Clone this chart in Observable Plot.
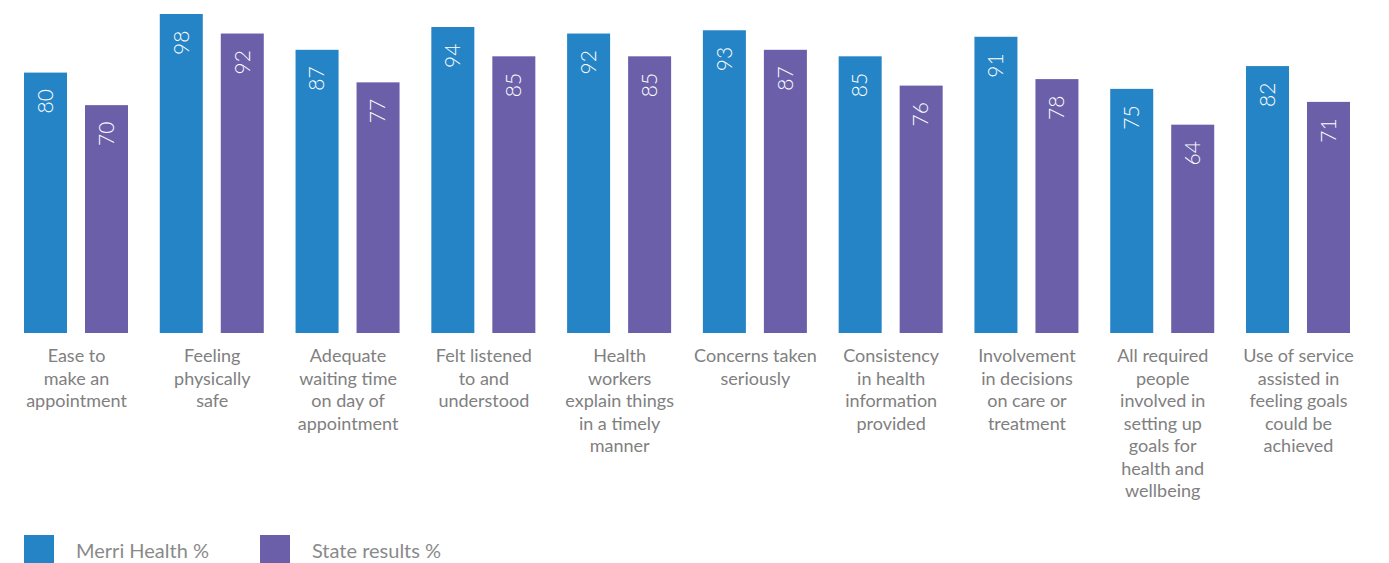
<!DOCTYPE html>
<html>
<head>
<meta charset="utf-8">
<script src="https://cdn.jsdelivr.net/npm/d3@7"></script>
<script src="https://cdn.jsdelivr.net/npm/@observablehq/plot@0.6"></script>
<style>
  html, body { margin: 0; padding: 0; background: #fff; }
  body { width: 1389px; height: 563px; overflow: hidden; font-family: Lato, "Open Sans", sans-serif; }
  #legend { display: flex; align-items: flex-start; margin-top: 25px; padding-left: 24px; font-size: 20px; color: #8a8a8a; }
  .item { display: flex; align-items: flex-start; margin-right: 51px; }
  .sw { width: 30px; height: 30px; margin-right: 22px; }
  .lab { line-height: 30px; margin-top: 0px; }
</style>
</head>
<body>
<div id="chart"></div>
<div id="legend"></div>
<script>
const categories = [
  "Ease to\nmake an\nappointment",
  "Feeling\nphysically\nsafe",
  "Adequate\nwaiting time\non day of\nappointment",
  "Felt listened\nto and\nunderstood",
  "Health\nworkers\nexplain things\nin a timely\nmanner",
  "Concerns taken\nseriously",
  "Consistency\nin health\ninformation\nprovided",
  "Involvement\nin decisions\non care or\ntreatment",
  "All required\npeople\ninvolved in\nsetting up\ngoals for\nhealth and\nwellbeing",
  "Use of service\nassisted in\nfeeling goals\ncould be\nachieved"
];
const seriesNames = ["Merri Health %", "State results %"];
const merriHealth = [80, 98, 87, 94, 92, 93, 85, 91, 75, 82];
const stateResults = [70, 92, 77, 85, 85, 87, 76, 78, 64, 71];
const colors = ["#2484c6", "#6b5fa9"];

const rows = [];
categories.forEach((c, i) => {
  rows.push({category: c, series: seriesNames[0], value: merriHealth[i]});
  rows.push({category: c, series: seriesNames[1], value: stateResults[i]});
});

const chart = Plot.plot({
  width: 1389,
  height: 510,
  marginTop: 14,
  marginBottom: 177,
  marginLeft: 24,
  marginRight: 39,
  style: {fontFamily: "Lato, 'Open Sans', sans-serif", background: "#fff"},
  fx: {domain: categories, paddingInner: 0.234, paddingOuter: 0, round: false, axis: null},
  x: {domain: seriesNames, paddingInner: 0.295, paddingOuter: 0, round: false, axis: null},
  y: {domain: [0, 98], axis: null},
  color: {domain: seriesNames, range: colors},
  marks: [
    Plot.barY(rows, {fx: "category", x: "series", y: "value", fill: "series"}),
    Plot.text(rows, {
      fx: "category", x: "series", y: "value", text: d => String(d.value),
      rotate: -90, textAnchor: "end", lineAnchor: "middle", dy: 16,
      fill: "#fff", fontSize: 21, fontWeight: 300
    }),
    Plot.text(categories, {
      fx: d => d, text: d => d, frameAnchor: "bottom", lineAnchor: "top",
      dy: 13, fontSize: 18, lineHeight: 1.25, fill: "#808080", textAnchor: "middle"
    })
  ]
});
document.getElementById("chart").appendChild(chart);

const legend = document.getElementById("legend");
seriesNames.forEach((s, i) => {
  const item = document.createElement("div");
  item.className = "item";
  const sw = document.createElement("div");
  sw.className = "sw";
  sw.style.background = colors[i];
  const lab = document.createElement("div");
  lab.className = "lab";
  lab.textContent = s;
  item.appendChild(sw);
  item.appendChild(lab);
  legend.appendChild(item);
});
</script>
</body>
</html>
